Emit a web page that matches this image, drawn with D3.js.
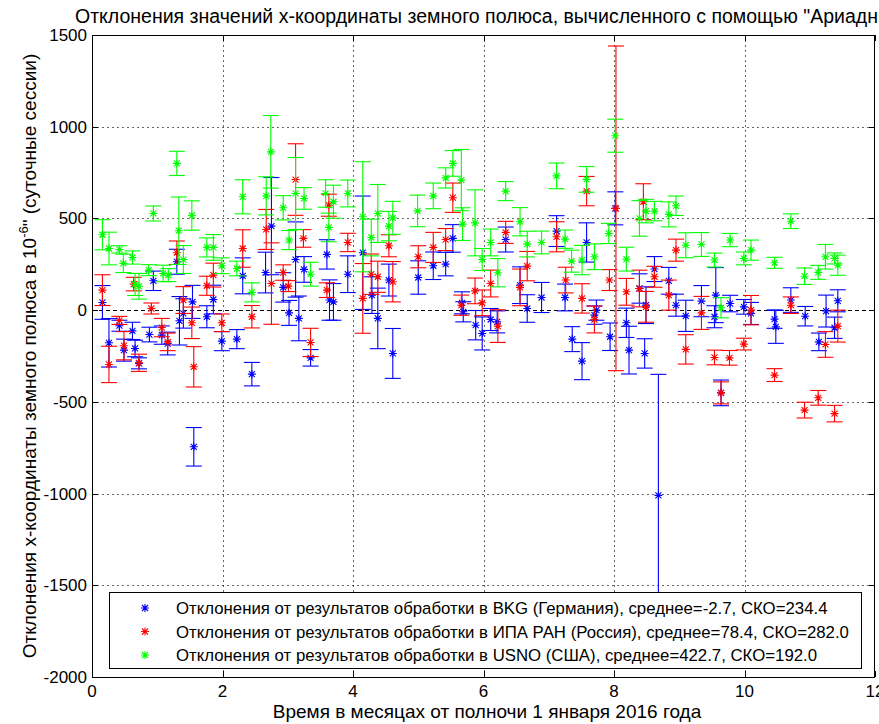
<!DOCTYPE html>
<html>
<head>
<meta charset="utf-8">
<script src="https://cdn.jsdelivr.net/npm/d3@7"></script>
<style>
  body { margin: 0; background: #fff; }
  svg { display: block; }
  text { font-family: "Liberation Sans", Arial, sans-serif; fill: #000; }
</style>
</head>
<body>
<svg id="chart" width="879" height="724"></svg>
<script>
// Deviations of the pole x-coordinate, per daily session (units of 1e-6)
// BKG (Germany)
const bkgMonths = [0.16,0.26,0.42,0.49,0.62,0.66,0.72,0.88,0.94,1.07,1.16,1.30,1.34,1.40,1.54,1.56,1.76,1.86,1.99,2.22,2.31,2.45,2.66,2.75,2.93,3.02,3.12,3.17,3.25,3.35,3.60,3.64,3.70,3.92,4.15,4.29,4.38,4.55,4.61,5.00,5.23,5.42,5.53,5.67,5.69,5.88,5.98,6.11,6.21,6.34,6.56,6.67,6.89,7.12,7.25,7.36,7.51,7.58,7.70,7.73,7.94,8.02,8.19,8.23,8.39,8.47,8.49,8.62,8.68,8.84,8.95,9.10,9.34,9.54,9.56,9.64,9.78,9.99,10.10,10.46,10.48,10.71,10.93,11.14,11.25,11.38,11.43];
const bkgValues = [42,-178,-85,-218,-113,-209,-290,-133,160,-136,-182,264,-58,-18,45,-745,-36,58,-169,-158,187,-349,205,458,124,-15,276,-45,222,-260,304,55,45,196,313,82,-45,164,-236,178,242,251,391,40,-9,-82,-127,-51,-64,385,136,9,69,431,69,-158,-278,369,-27,0,-145,555,-69,-218,118,-236,27,224,-1010,160,27,-31,49,-36,82,-451,36,18,-18,-49,-91,55,-33,-173,-5,-96,51];
const bkgErrors = [92,132,30,60,47,45,30,40,53,50,62,68,132,80,90,105,60,78,52,52,98,64,111,265,80,68,205,122,70,45,80,110,100,100,309,100,165,87,136,91,75,64,75,60,55,80,90,60,60,68,100,75,82,84,73,68,101,107,50,55,75,90,80,130,80,80,100,68,660,73,60,85,85,60,150,70,45,40,60,50,90,67,53,48,87,58,60];

// IPA RAN (Russia)
const ipaMonths = [0.16,0.26,0.42,0.49,0.64,0.72,0.91,1.07,1.16,1.30,1.40,1.53,1.56,1.76,1.86,1.99,2.31,2.45,2.67,2.75,2.93,3.01,3.12,3.24,3.35,3.60,3.63,3.92,4.15,4.28,4.38,4.55,4.61,5.00,5.23,5.42,5.53,5.66,5.87,5.98,6.11,6.22,6.34,6.56,6.67,7.12,7.26,7.51,7.58,7.70,7.93,8.03,8.19,8.39,8.45,8.49,8.62,8.84,8.95,9.10,9.34,9.54,9.64,9.77,9.99,10.10,10.46,10.71,10.92,11.13,11.24,11.38,11.43];
const ipaValues = [109,-296,-56,-194,142,-287,9,-95,-173,313,55,-69,-309,133,191,-69,336,-36,440,145,205,131,712,391,-176,109,572,369,64,196,182,351,155,291,342,385,613,27,105,40,145,-87,424,124,240,400,164,64,649,-51,164,555,100,118,591,18,182,82,327,-214,-15,-258,-451,-260,-185,0,-354,27,-545,-478,-187,-564,-87];
const ipaErrors = [84,99,22,77,37,47,30,50,48,64,73,86,110,52,65,48,102,61,109,222,42,30,195,48,77,40,60,50,190,110,85,60,110,60,82,60,80,55,70,70,73,89,60,100,80,82,70,80,80,73,57,885,73,100,98,84,57,82,60,80,90,40,60,40,32,80,35,45,43,40,70,45,87];

// USNO (USA)
const usnoMonths = [0.16,0.26,0.42,0.48,0.62,0.66,0.72,0.87,0.94,1.09,1.17,1.30,1.33,1.40,1.53,1.76,1.86,1.99,2.22,2.31,2.45,2.67,2.74,2.93,3.02,3.12,3.25,3.35,3.58,3.63,3.70,3.92,4.15,4.28,4.38,4.55,4.61,4.99,5.23,5.42,5.53,5.66,5.68,5.87,5.98,6.11,6.22,6.34,6.56,6.67,6.89,7.12,7.25,7.35,7.51,7.58,7.70,7.92,8.02,8.19,8.39,8.49,8.62,8.84,8.95,9.10,9.34,9.54,9.64,9.78,9.99,10.10,10.46,10.71,10.92,11.13,11.24,11.38,11.43];
const usnoValues = [411,336,331,255,287,140,130,218,527,200,191,800,433,276,516,342,342,242,227,618,97,623,863,558,382,636,609,196,636,451,591,636,509,396,527,458,503,541,623,721,800,709,469,476,276,369,204,649,482,360,369,732,387,267,273,713,291,418,951,278,500,540,540,522,569,354,358,273,13,382,282,327,258,485,185,206,291,282,245];
const usnoErrors = [82,89,20,50,36,60,70,30,41,45,35,66,184,76,80,52,70,43,40,93,52,104,198,66,52,196,59,65,75,78,90,73,300,100,158,80,90,86,70,55,70,167,89,180,60,73,77,52,77,70,62,70,50,60,80,70,70,55,90,65,97,64,53,68,53,68,65,38,55,36,35,55,30,40,45,38,67,30,55];

const xTicks = [0, 2, 4, 6, 8, 10, 12];
const yTicks = [-2000, -1500, -1000, -500, 0, 500, 1000, 1500];

const seriesNames = [
  "Отклонения от результатов обработки в BKG (Германия), среднее=-2.7, СКО=234.4",
  "Отклонения от результатов обработки в ИПА РАН (Россия), среднее=78.4, СКО=282.0",
  "Отклонения от результатов обработки в USNO (США), среднее=422.7, СКО=192.0"
];
const seriesColors = ["#0000ff", "#ff0000", "#00ff00"];

const titleText = "Отклонения значений x-координаты земного полюса, вычисленного с помощью \"Ариадны\"";
const xLabelText = "Время в месяцах от полночи 1 января 2016 года";

// ---- layout
const svg = d3.select("#chart");
const m = { left: 92, right: 875, top: 35, bottom: 677 };
const x = d3.scaleLinear().domain([0, 12]).range([m.left, m.right]);
const y = d3.scaleLinear().domain([-2000, 1500]).range([m.bottom, m.top]);

svg.append("defs").append("clipPath").attr("id", "plotClip")
  .append("rect").attr("x", m.left).attr("y", m.top)
  .attr("width", m.right - m.left).attr("height", m.bottom - m.top);

// grid
const grid = svg.append("g").attr("stroke", "#000").attr("stroke-opacity", 0.6)
  .attr("stroke-width", 1).attr("stroke-dasharray", "2,3");
xTicks.filter(t => t > 0 && t < 12).forEach(t => {
  grid.append("line").attr("x1", Math.round(x(t)) + 0.5).attr("x2", Math.round(x(t)) + 0.5)
    .attr("y1", m.top).attr("y2", m.bottom);
});
yTicks.filter(t => t > -2000 && t < 1500 && t !== 0).forEach(t => {
  grid.append("line").attr("y1", Math.round(y(t)) + 0.5).attr("y2", Math.round(y(t)) + 0.5)
    .attr("x1", m.left).attr("x2", m.right);
});
// zero reference line
svg.append("line").attr("x1", m.left).attr("x2", m.right)
  .attr("y1", Math.round(y(0)) + 0.5).attr("y2", Math.round(y(0)) + 0.5)
  .attr("stroke", "#000").attr("stroke-dasharray", "4,3");

// ---- error bar series
const cap = 8;
const star = "M-4,0L4,0M0,-4L0,4M-3,-3L3,3M-3,3L3,-3";
function drawSeries(months, values, errors, color) {
  const g = svg.append("g").attr("clip-path", "url(#plotClip)")
    .attr("stroke", color).attr("fill", "none").attr("stroke-width", 1.1);
  const pts = months.map((t, i) => ({ t, v: values[i], e: errors[i] }));
  const bars = g.selectAll("g.bar").data(pts).enter().append("g").attr("class", "bar");
  bars.append("line")
    .attr("x1", d => x(d.t)).attr("x2", d => x(d.t))
    .attr("y1", d => y(d.v + d.e)).attr("y2", d => y(d.v - d.e));
  bars.append("line")
    .attr("x1", d => x(d.t) - cap).attr("x2", d => x(d.t) + cap)
    .attr("y1", d => y(d.v + d.e)).attr("y2", d => y(d.v + d.e));
  bars.append("line")
    .attr("x1", d => x(d.t) - cap).attr("x2", d => x(d.t) + cap)
    .attr("y1", d => y(d.v - d.e)).attr("y2", d => y(d.v - d.e));
  bars.append("path").attr("d", star)
    .attr("transform", d => `translate(${x(d.t)},${y(d.v)})`);
}
drawSeries(bkgMonths, bkgValues, bkgErrors, seriesColors[0]);
drawSeries(ipaMonths, ipaValues, ipaErrors, seriesColors[1]);
drawSeries(usnoMonths, usnoValues, usnoErrors, seriesColors[2]);

// ---- axes box and ticks (inward, all four sides)
svg.append("rect").attr("x", m.left + 0.5).attr("y", m.top + 0.5)
  .attr("width", m.right - m.left - 1).attr("height", m.bottom - m.top)
  .attr("fill", "none").attr("stroke", "#000");

const tk = 6;
const axisG = svg.append("g").attr("stroke", "#000");
xTicks.forEach(t => {
  const px = Math.round(x(t)) + 0.5;
  axisG.append("line").attr("x1", px).attr("x2", px).attr("y1", m.bottom).attr("y2", m.bottom - tk);
  axisG.append("line").attr("x1", px).attr("x2", px).attr("y1", m.top).attr("y2", m.top + tk);
});
yTicks.forEach(t => {
  const py = Math.round(y(t)) + 0.5;
  axisG.append("line").attr("x1", m.left).attr("x2", m.left + tk).attr("y1", py).attr("y2", py);
  axisG.append("line").attr("x1", m.right).attr("x2", m.right - tk).attr("y1", py).attr("y2", py);
});

svg.append("g").selectAll("text").data(xTicks).enter().append("text")
  .attr("x", d => x(d)).attr("y", 697).attr("text-anchor", "middle")
  .attr("font-size", 17).text(d => d);
svg.append("g").selectAll("text").data(yTicks).enter().append("text")
  .attr("x", 87).attr("y", d => y(d) + 6).attr("text-anchor", "end")
  .attr("font-size", 17).text(d => d);

// ---- legend
const lg = svg.append("g");
lg.append("rect").attr("x", 109.5).attr("y", 592.5).attr("width", 752).attr("height", 76)
  .attr("fill", "#fff").attr("stroke", "#000");
seriesNames.forEach((name, i) => {
  const cy = 608 + i * 23.5;
  lg.append("path").attr("d", star).attr("stroke", seriesColors[i]).attr("stroke-width", 1.1)
    .attr("transform", `translate(145,${cy})`);
  lg.append("text").attr("x", 176).attr("y", cy + 6).attr("font-size", 16.8).text(name);
});

// ---- titles
svg.append("text").attr("x", 75).attr("y", 23)
  .attr("font-size", 19.5).text(titleText);
svg.append("text").attr("x", 487).attr("y", 718)
  .attr("text-anchor", "middle").attr("font-size", 19).text(xLabelText);

const yl = svg.append("text")
  .attr("transform", `translate(36,${(m.top + m.bottom) / 2}) rotate(-90)`)
  .attr("text-anchor", "middle").attr("font-size", 19);
yl.append("tspan").text("Отклонения x-координаты земного полюса в 10");
yl.append("tspan").attr("dy", -8).attr("font-size", 13).text("-6");
yl.append("tspan").attr("dy", 8).text("\" (суточные сессии)");
</script>
</body>
</html>
